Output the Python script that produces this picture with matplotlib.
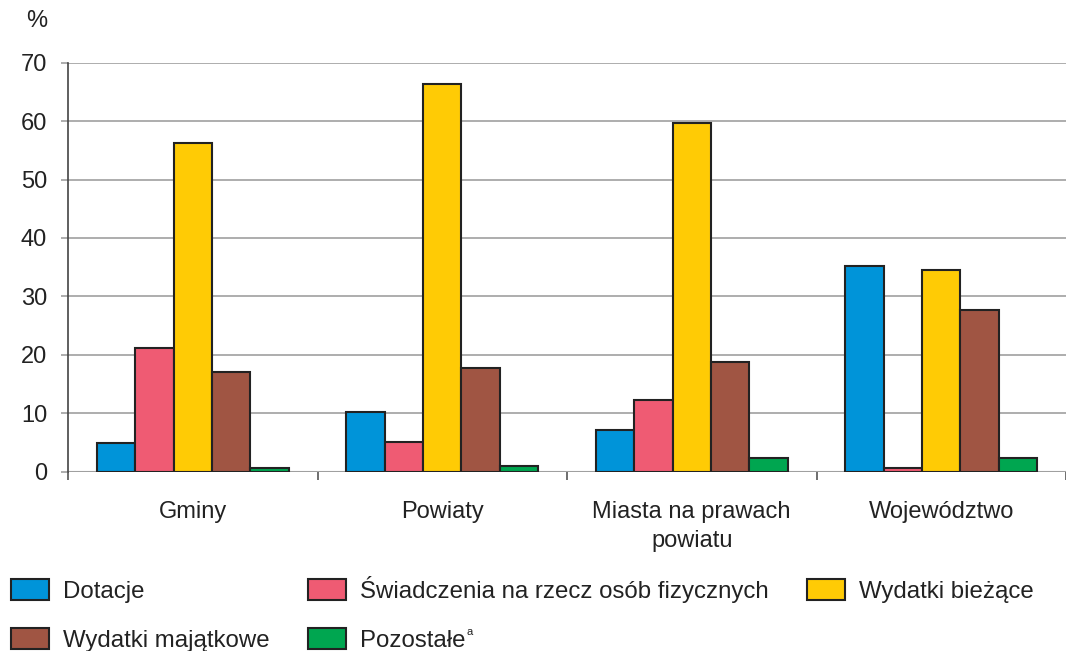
import numpy as np
import matplotlib
matplotlib.use('Agg')
from matplotlib import pyplot as plt

plt.rcParams['font.family'] = ['Liberation Sans', 'DejaVu Sans']

# dane
kategorie = ['Gminy', 'Powiaty', 'Miasta na prawach\npowiatu', 'Województwo']
dotacje = [4.9, 10.3, 7.1, 35.2]
swiadczenia = [21.1, 5.1, 12.3, 0.6]
biezace = [56.3, 66.3, 59.7, 34.5]
majatkowe = [17.1, 17.7, 18.8, 27.7]
pozostale = [0.7, 1.0, 2.3, 2.3]

serie = ['Dotacje', 'Świadczenia na rzecz osób fizycznych', 'Wydatki bieżące',
         'Wydatki majątkowe', 'Pozostałe']
kolory = ['#0094D9', '#EF5B73', '#FFCB05', '#A05543', '#00A650']
wartosci = [dotacje, swiadczenia, biezace, majatkowe, pozostale]

fig = plt.figure(figsize=(10.66, 6.51), dpi=100)
ax = fig.add_axes([68 / 1066, 1 - 471.7 / 651, 998 / 1066, 409 / 651])

x = np.arange(len(kategorie))
w = 0.154
uchwyty = []
for i, (v, c, nazwa) in enumerate(zip(wartosci, kolory, serie)):
    b = ax.bar(x + (i - 2) * w, v, w, color=c, edgecolor='#222222',
               linewidth=1.5, label=nazwa, zorder=3)
    uchwyty.append(b)

ax.set_ylim(0, 70)
ax.set_xlim(-0.5, -0.5 + 998 / 252)
ax.set_yticks(np.arange(0, 71, 10))
ax.yaxis.grid(True, color='#a0a0a0', linewidth=1.2, zorder=0)
ax.set_axisbelow(True)

for s in ['top', 'right', 'bottom']:
    ax.spines[s].set_visible(False)
ax.spines['left'].set_color('#444444')
ax.spines['left'].set_linewidth(1.2)

ax.tick_params(axis='y', length=5, color='#a0a0a0', width=1.2, pad=10,
               labelsize=17, labelcolor='#222222')
ax.set_xticks(x)
ax.set_xticklabels(kategorie, fontsize=17, color='#222222', linespacing=1.4)
ax.set_xticks(np.arange(-0.5, 4, 1), minor=True)
ax.tick_params(axis='x', which='major', length=0, pad=21)
ax.tick_params(axis='x', which='minor', length=6, color='#555555', width=1.2)
ax.axhline(0, color='#a0a0a0', linewidth=1.5, zorder=2)

fig.text(37 / 1066, 1 - 21 / 651, '%', fontsize=17, ha='center', va='center',
         color='#222222')

# legenda wierszami
kolej = [0, 3, 1, 4, 2]
leg = fig.legend([uchwyty[k] for k in kolej], [serie[k] for k in kolej],
                 loc='upper left', bbox_to_anchor=(6 / 1066, 1 - 571 / 651), ncol=3,
                 frameon=False, fontsize=17.3, handlelength=1.58, handleheight=0.96,
                 handletextpad=0.58, columnspacing=1.6, labelspacing=1.05,
                 borderaxespad=0, borderpad=0.2, labelcolor='#222222')

# mały indeks "a" przy "Pozostałe"
fig.canvas.draw()
t = [tt for tt in leg.get_texts() if tt.get_text() == 'Pozostałe'][0]
bb = t.get_window_extent().transformed(fig.transFigure.inverted())
fig.text(bb.x1 + 1 / 1066, bb.y1 + 3 / 651, 'a', fontsize=8, ha='left', va='top',
         color='#222222')

fig.savefig('out.png', dpi=100)
